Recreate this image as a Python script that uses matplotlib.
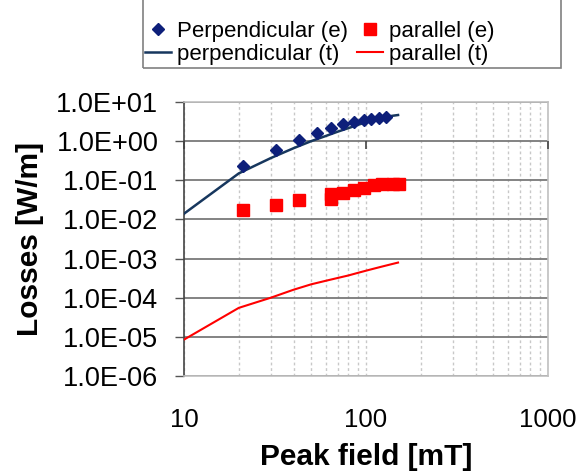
import math
import matplotlib
matplotlib.use("Agg")
import matplotlib.pyplot as plt
from matplotlib.ticker import FixedLocator, FuncFormatter, NullFormatter
from matplotlib.patches import Rectangle

plt.rcParams['font.family'] = ['Liberation Sans', 'DejaVu Sans']

# measured points (e)
field_perp_e = [21, 32, 43, 54, 64, 75, 86, 97, 107, 118, 129]
loss_perp_e = [0.23, 0.61, 1.06, 1.63, 2.12, 2.68, 3.0, 3.45, 3.66, 3.9, 4.2]

field_par_e = [21, 32, 43, 64, 64, 75, 86, 97, 110, 122, 140, 152]
loss_par_e = [0.0177, 0.0233, 0.032, 0.034, 0.044, 0.047, 0.0555, 0.065,
              0.0745, 0.082, 0.079, 0.082]

# theory curves (t)
field_t = [10, 20, 30, 40, 50, 60, 70, 80, 90, 100, 110, 120, 130, 140, 150]
loss_perp_t = [0.014, 0.15, 0.37, 0.66, 1.0, 1.35, 1.75, 2.15, 2.6, 3.05,
               3.45, 3.85, 4.2, 4.45, 4.65]
loss_par_t = [8.5e-6, 5.5e-5, 1.0e-4, 1.6e-4, 2.2e-4, 2.7e-4, 3.2e-4, 3.7e-4,
              4.3e-4, 4.9e-4, 5.5e-4, 6.1e-4, 6.7e-4, 7.3e-4, 7.9e-4]

y_decades = list(range(-6, 2))
x_ticks = [10, 100, 1000]

navy = '#0d1f7a'
dark_blue = '#17375e'
red = '#ff0000'


def sci_label(v, pos):
    return '1.0E%+03d' % round(math.log10(v))


fig = plt.figure(figsize=(5.76, 4.76), dpi=100)
ax = fig.add_axes([0.3194, 0.2101, 0.632, 0.5756])

h1, = ax.plot(field_perp_e, loss_perp_e, 'D', color=navy, markersize=6.5,
              label='Perpendicular (e)', zorder=4)
h2, = ax.plot(field_t, loss_perp_t, '-', color=dark_blue, lw=1.8,
              label='perpendicular (t)', zorder=3)
h3, = ax.plot(field_par_e, loss_par_e, 's', color=red, markersize=8,
              label='parallel (e)', zorder=4)
h4, = ax.plot(field_t, loss_par_t, '-', color=red, lw=1.5,
              label='parallel (t)', zorder=3)

ax.set_xscale('log')
ax.set_yscale('log')
ax.set_xlim(10, 1000)
ax.set_ylim(1e-6, 1e1)

ax.yaxis.set_major_locator(FixedLocator([10.0 ** k for k in y_decades]))
ax.yaxis.set_minor_locator(FixedLocator([]))
ax.yaxis.set_major_formatter(FuncFormatter(sci_label))
ax.xaxis.set_major_locator(FixedLocator(x_ticks))
ax.xaxis.set_major_formatter(FuncFormatter(lambda v, p: '%d' % v))
ax.xaxis.set_minor_formatter(NullFormatter())

ax.tick_params(axis='y', which='major', direction='out', length=6.5, width=1,
               color='#555555', pad=12, labelsize=19.5)
ax.tick_params(axis='x', which='both', length=0, pad=23, labelsize=18.5)

# grid
ax.grid(True, axis='y', which='major', color='#7a7a7a', lw=1.3, ls='-')
ax.grid(True, axis='x', which='both', color='#c8c8c8', lw=1, ls=(0, (2, 2)))
ax.set_axisbelow(True)

for side in ['top', 'right', 'bottom']:
    ax.spines[side].set_color('#c0c0c0')
    ax.spines[side].set_linewidth(1.2)
ax.spines['left'].set_color('#444444')
ax.spines['left'].set_linewidth(1.2)

# x axis crosses at 1.0E+00
sec = ax.secondary_xaxis(6 / 7)
sec.set_zorder(5)
sec.xaxis.set_major_locator(FixedLocator(x_ticks))
sec.xaxis.set_minor_locator(FixedLocator([]))
sec.tick_params(axis='x', direction='out', length=5.5, width=1.2, color='#444444',
                labelbottom=False, labeltop=False, top=False, bottom=True)
sec.spines['bottom'].set_visible(False)
sec.spines['top'].set_visible(False)

ax.set_xlabel('Peak field [mT]', fontsize=21.5, fontweight='bold', labelpad=8)
ax.set_ylabel('Losses [W/m]', fontsize=21.5, fontweight='bold', labelpad=9)

leg = fig.legend(handles=[h1, h2, h3, h4], ncol=2, loc='upper left',
                 bbox_to_anchor=(145 / 576, 1 - 21 / 476), frameon=False,
                 fontsize=16, handlelength=1.15, handletextpad=0.3,
                 columnspacing=0.4, labelspacing=0.1, borderpad=0,
                 borderaxespad=0, numpoints=1)

fig.patches.append(Rectangle((143 / 576, 1 - 68 / 476), (561 - 143) / 576, 0.2,
                             transform=fig.transFigure, fill=False,
                             edgecolor='#808080', lw=1.2))

fig.savefig('out.png', dpi=100)
